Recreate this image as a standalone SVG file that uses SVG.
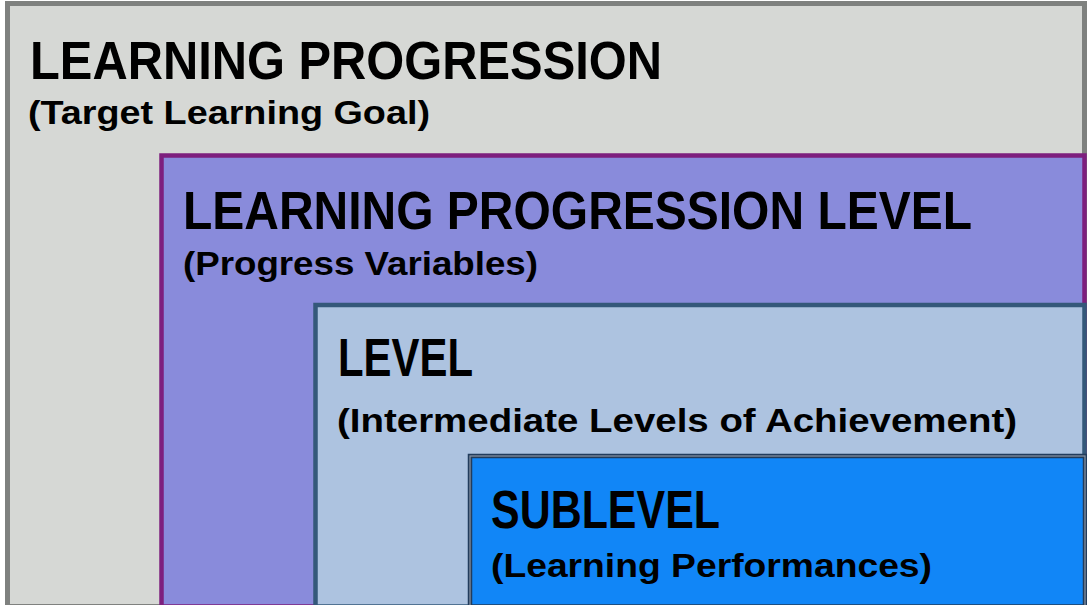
<svg xmlns="http://www.w3.org/2000/svg" width="1087" height="605" viewBox="0 0 1087 605">
<style>
.t{font-family:"Liberation Sans",Arial,sans-serif;font-weight:bold;fill:#000;}
.h{font-size:53px;}
.s{font-size:34px;}
</style>
<rect x="0" y="0" width="1087" height="605" fill="#ffffff"/>
<g id="learning-progression">
<rect x="7.5" y="3.5" width="1077" height="603" fill="#d6d8d5" stroke="#7f817f" stroke-width="5"/>
<text class="t h" x="30" y="79" textLength="632" lengthAdjust="spacingAndGlyphs">LEARNING PROGRESSION</text>
<text class="t s" x="28" y="124" textLength="402" lengthAdjust="spacingAndGlyphs">(Target Learning Goal)</text>
</g>
<g id="learning-progression-level">
<rect x="161.5" y="155.5" width="923" height="451" fill="#898bdb" stroke="#7d1f7e" stroke-width="4.5"/>
<text class="t h" x="183" y="229" textLength="789" lengthAdjust="spacingAndGlyphs">LEARNING PROGRESSION LEVEL</text>
<text class="t s" x="183" y="275" textLength="355" lengthAdjust="spacingAndGlyphs">(Progress Variables)</text>
</g>
<g id="level">
<rect x="315.5" y="305" width="769" height="301.5" fill="#adc3e0" stroke="#34587a" stroke-width="4.5"/>
<text class="t h" x="338" y="376" textLength="135" lengthAdjust="spacingAndGlyphs">LEVEL</text>
<text class="t s" x="337" y="432" textLength="680" lengthAdjust="spacingAndGlyphs">(Intermediate Levels of Achievement)</text>
</g>
<g id="sublevel">
<rect x="470" y="456" width="615" height="150.5" fill="#1186f7" stroke="#223c5c" stroke-width="4.5"/>
<rect x="470" y="456" width="615" height="150.5" fill="none" stroke="#8a96a6" stroke-width="1.2"/>
<text class="t h" x="491" y="528" textLength="229" lengthAdjust="spacingAndGlyphs">SUBLEVEL</text>
<text class="t s" x="491" y="577" textLength="441" lengthAdjust="spacingAndGlyphs">(Learning Performances)</text>
</g>
<g id="connectors"></g>
</svg>
